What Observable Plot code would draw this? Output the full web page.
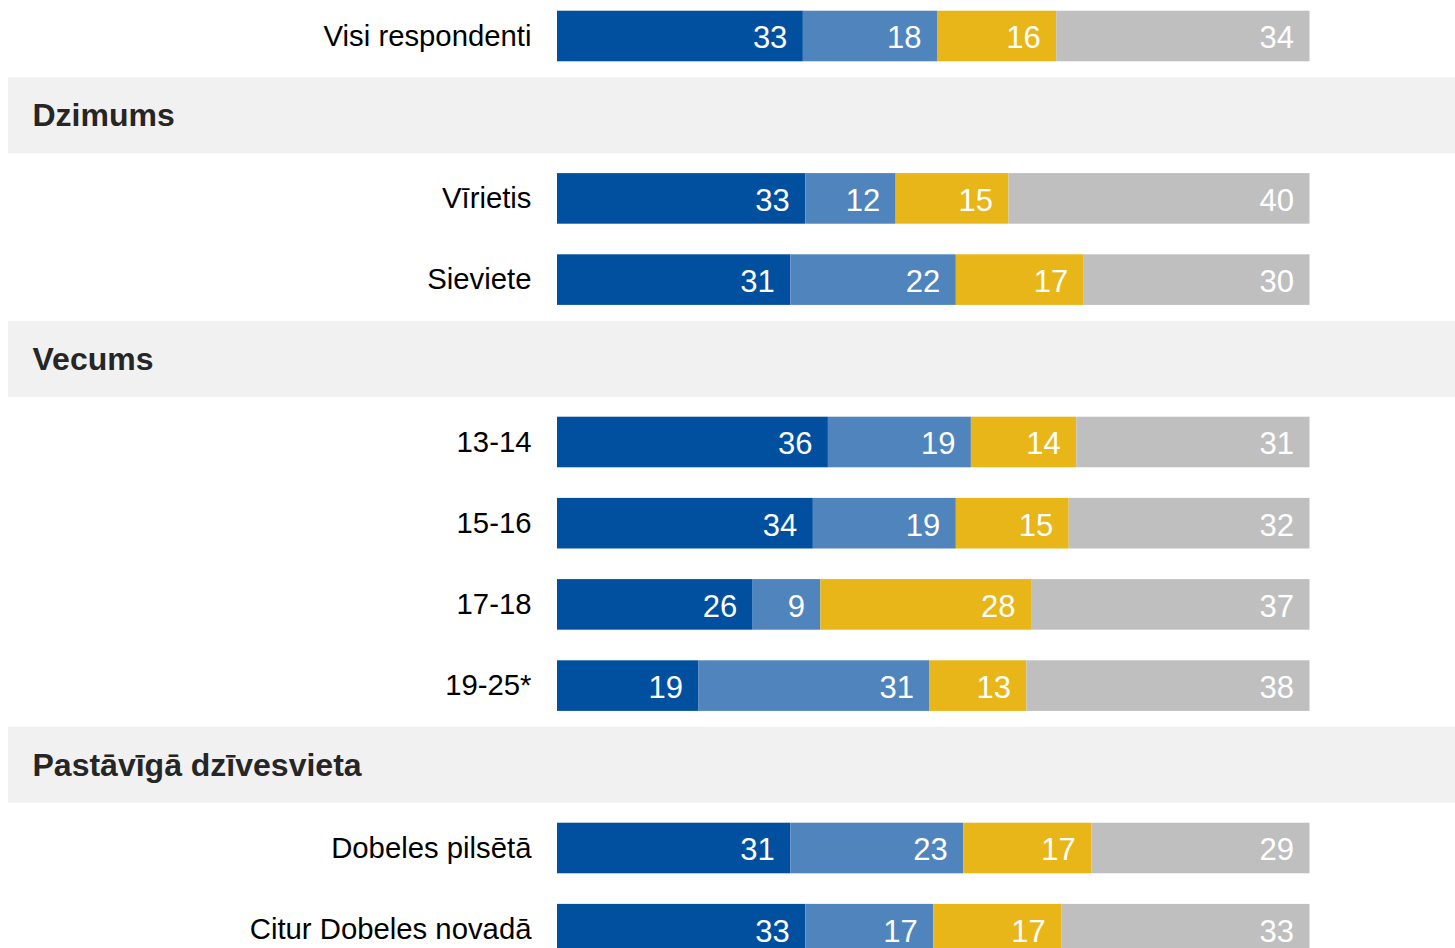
<!DOCTYPE html>
<html><head><meta charset="utf-8">
<script src="https://cdn.jsdelivr.net/npm/d3@7"></script>
<script src="https://cdn.jsdelivr.net/npm/@observablehq/plot@0.6"></script>
<style>body{margin:0;background:#fff;overflow:hidden;}</style>
</head><body><div id="chart"></div>
<script>
const rows = ["Visi respondenti", "Dzimums", "Vīrietis", "Sieviete", "Vecums", "13-14", "15-16", "17-18", "19-25*", "Pastāvīgā dzīvesvieta", "Dobeles pilsētā", "Citur Dobeles novadā"];
const headers = ["Dzimums", "Vecums", "Pastāvīgā dzīvesvieta"];
const categories = ["Visi respondenti", "Vīrietis", "Sieviete", "13-14", "15-16", "17-18", "19-25*", "Dobeles pilsētā", "Citur Dobeles novadā"];
const series = ["s1", "s2", "s3", "s4"];
const s1 = [33, 33, 31, 36, 34, 26, 19, 31, 33];
const s2 = [18, 12, 22, 19, 19, 9, 31, 23, 17];
const s3 = [16, 15, 17, 14, 15, 28, 13, 17, 17];
const s4 = [34, 40, 30, 31, 32, 37, 38, 29, 33];
const colors = ["#00509f", "#4f84bd", "#e8b618", "#bfbfbf"];

const seriesValues = [s1, s2, s3, s4];
const data = categories.flatMap((c, i) => series.map((s, j) => ({row: c, series: s, value: seriesValues[j][i]})));

const stackOpts = {x: "value", y: "row", z: "series", offset: "normalize", order: series};

const chart = Plot.plot({
  width: 1455, height: 948,
  marginLeft: 8, marginRight: 0, marginTop: 0, marginBottom: 0,
  style: {fontFamily: "'Liberation Sans', Arial, sans-serif", background: "#fff"},
  x: {domain: [0, 1], range: [557, 1309.5], axis: null},
  y: {domain: rows, range: [-4.6, 969.8], padding: 0, round: false, axis: null},
  color: {domain: series, range: colors},
  marks: [
    Plot.cell(headers, {y: d => d, fill: "#f1f1f1", insetTop: 0.6, insetBottom: 4.6}),
    Plot.text(headers, {y: d => d, text: d => d, frameAnchor: "left", dx: 24, dy: -2, fontWeight: "bold", fontSize: 32, fill: "#262626"}),
    Plot.barX(data, Plot.stackX({...stackOpts, fill: "series", insetTop: 15.3, insetBottom: 15.3})),
    Plot.text(data, Plot.stackX2({...stackOpts, text: "value", textAnchor: "end", dx: -16, dy: 2, fill: "white", fontSize: 31})),
    Plot.text(categories, {x: () => 0, y: d => d, text: d => d, textAnchor: "end", dx: -26, fontSize: 29.3, fill: "#000"})
  ]
});
document.getElementById("chart").appendChild(chart);
</script>
</body></html>
